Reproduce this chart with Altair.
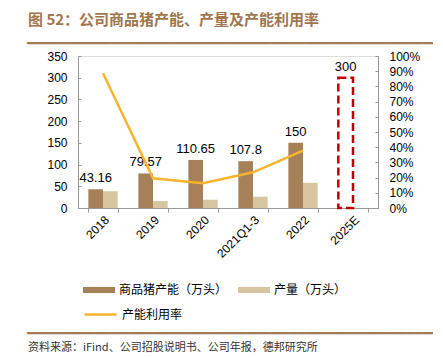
import altair as alt
import pandas as pd

categories = ["2018", "2019", "2020", "2021Q1-3", "2022", "2025E"]
capacity = [43.16, 79.57, 110.65, 107.8, 150, 300]
production = [38.5, 16, 19, 26, 58, None]
utilization = [0.886, 0.195, 0.163, 0.235, 0.377, None]
capacity_labels = ["43.16", "79.57", "110.65", "107.8", "150", "300"]
estimated = [False, False, False, False, False, True]

CAP = "商品猪产能（万头）"
PROD = "产量（万头）"
UTIL = "产能利用率"
TITLE = "图 52：公司商品猪产能、产量及产能利用率"
SOURCE = "资料来源：iFind、公司招股说明书、公司年报，德邦研究所"

C_CAP = "#A68059"
C_PROD = "#D6C59E"
C_LINE = "#F6B52C"
C_RED = "#C00000"
C_RULE = "#A47A55"

rows = []
for c, v, e in zip(categories, capacity, estimated):
    rows.append({"cat": c, "series": CAP, "value": v, "est": e})
for c, v in zip(categories, production):
    if v is not None:
        rows.append({"cat": c, "series": PROD, "value": v, "est": False})
bars_df = pd.DataFrame(rows)
lab_df = pd.DataFrame({"cat": categories, "series": [CAP] * 6, "value": capacity, "label": capacity_labels})
line_df = pd.DataFrame({"cat": categories[:5], "util": utilization[:5], "s": [UTIL] * 5})

FONT = "Liberation Sans"
CJK = "Noto Sans CJK SC"

xenc = alt.X("cat:N", sort=categories, title=None,
             scale=alt.Scale(paddingInner=0.414, paddingOuter=0.207),
             axis=alt.Axis(labelAngle=-45, tickBand="extent", tickSize=4, tickColor="#999",
                           domainColor="#999", labelFont=FONT, labelFontSize=12,
                           labelColor="#000", labelPadding=2))
xoff = alt.XOffset("series:N", scale=alt.Scale(domain=[CAP, PROD]))
ydom = alt.Scale(domain=[0, 350], nice=False)

bars = alt.Chart(bars_df).transform_filter("!datum.est").mark_bar().encode(
    x=xenc, xOffset=xoff,
    y=alt.Y("value:Q", scale=ydom, title=None,
            axis=alt.Axis(values=list(range(0, 351, 50)), ticks=False, domainColor="#999",
                          labelFont=FONT, labelFontSize=12, labelColor="#000",
                          labelPadding=11, grid=False, orient="left")),
    color=alt.Color("series:N", scale=alt.Scale(domain=[CAP, PROD], range=[C_CAP, C_PROD]),
                    legend=alt.Legend(title=None, orient="none", legendX=5, legendY=218,
                                      direction="horizontal", columns=2,
                                      symbolType="M-1,-0.19H1V0.19H-1Z", symbolSize=1024,
                                      symbolStrokeWidth=0, labelFont=CJK, labelFontSize=12,
                                      labelColor="#000", columnPadding=10, labelOffset=4)),
)

dashed = alt.Chart(bars_df).transform_filter("datum.est").mark_bar(
    filled=False, stroke=C_RED, strokeWidth=2.5, strokeDash=[8, 4]).encode(
    x=xenc, xOffset=xoff,
    y=alt.Y("value:Q", scale=ydom, axis=None),
)

labels = alt.Chart(lab_df).mark_text(baseline="bottom", dy=-4, font=FONT, fontSize=13, color="#000").encode(
    x=xenc, xOffset=xoff,
    y=alt.Y("value:Q", scale=ydom, axis=None),
    text="label:N",
)

line = alt.Chart(line_df).mark_line(strokeWidth=2.5).encode(
    x=xenc,
    y=alt.Y("util:Q", scale=alt.Scale(domain=[0, 1], nice=False), title=None,
            axis=alt.Axis(values=[i / 10 for i in range(11)], format=".0%", ticks=False,
                          domainColor="#999", labelFont=FONT, labelFontSize=12,
                          labelColor="#000", labelPadding=11, grid=False, orient="right")),
    stroke=alt.Stroke("s:N", scale=alt.Scale(domain=[UTIL], range=[C_LINE]),
                      legend=alt.Legend(title=None, orient="none", legendX=5, legendY=241,
                                        symbolType="stroke", symbolSize=1024, symbolStrokeWidth=2.5,
                                        labelFont=CJK, labelFontSize=12, labelColor="#000",
                                        labelOffset=4)),
)

lticks = alt.Chart(line_df).mark_point(opacity=0).encode(
    x=xenc,
    y=alt.Y("util:Q", scale=alt.Scale(domain=[0, 350], nice=False), title=None,
            axis=alt.Axis(values=list(range(0, 351, 50)), orient="right", offset=-300,
                          domain=False, labels=False, tickSize=3, tickColor="#999", grid=False)),
)
rticks = alt.Chart(line_df).mark_point(opacity=0).encode(
    x=xenc,
    y=alt.Y("util:Q", scale=alt.Scale(domain=[0, 1], nice=False), title=None,
            axis=alt.Axis(values=[i / 10 for i in range(11)], orient="left", offset=-300,
                          domain=False, labels=False, tickSize=3, tickColor="#999", grid=False)),
)

# decorative separator lines drawn with box-drawing glyphs (410 px wide)
deco = pd.DataFrame({"k": ["a"]})
SEP_HEAVY = "\u2501" * 49
SEP_LIGHT = "\u2500" * 49
top_rule = alt.Chart(deco).mark_text(align="left", baseline="middle", font="DejaVu Sans Mono",
                                     fontSize=14, color=C_RULE).encode(
    x=alt.value(-51), y=alt.value(-12), text=alt.value(SEP_HEAVY))
bot_rule = alt.Chart(deco).mark_text(align="left", baseline="middle", font="DejaVu Sans Mono",
                                     fontSize=14, color=C_RULE).encode(
    x=alt.value(-51), y=alt.value(278), text=alt.value(SEP_HEAVY))
source = alt.Chart(deco).mark_text(align="left", baseline="middle", font=CJK, fontSize=11,
                                   color="#333").encode(
    x=alt.value(-50), y=alt.value(292), text=alt.value(SOURCE))

chart = alt.layer(bars, dashed, labels, line, lticks, rticks, top_rule, bot_rule, source).resolve_scale(
    y="independent"
).properties(
    width=300, height=152,
    title=alt.TitleParams(TITLE, anchor="start", frame="group", dx=-50, offset=9,
                          font=CJK, fontSize=15, fontWeight="bold", color="#A0764F"),
    autosize=alt.AutoSizeParams(type="none"),
    padding={"left": 70, "top": 48, "right": 55, "bottom": 150},
).configure_view(stroke=None).configure(background="white")

chart.save("out.html", embed_options={"renderer": "svg", "actions": False})
